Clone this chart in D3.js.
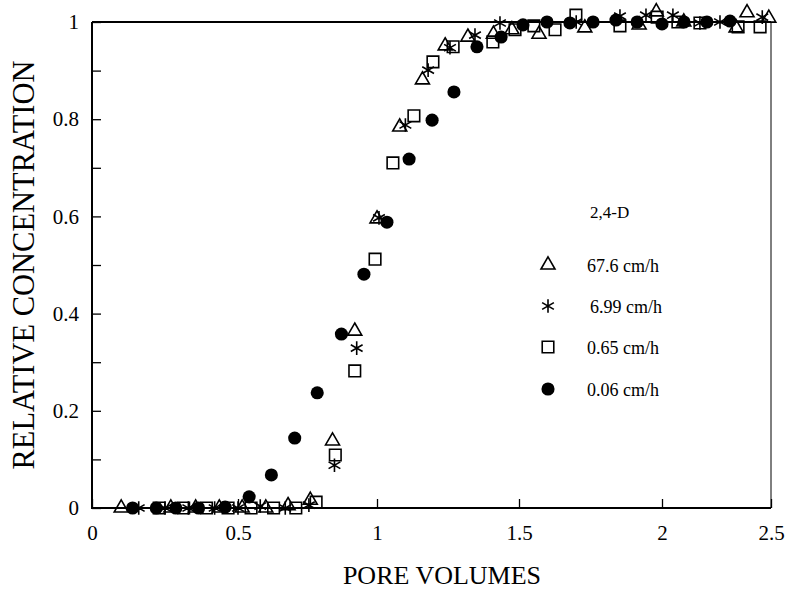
<!DOCTYPE html>
<html>
<head>
<meta charset="utf-8">
<script src="https://cdn.jsdelivr.net/npm/d3@7"></script>
<style>
  html, body { margin: 0; padding: 0; background: #fff; }
  text { font-family: "Liberation Serif", "DejaVu Serif", serif; fill: #000; }
</style>
</head>
<body>
<div id="canvas"></div>
<script>
// tick values
let xTicks = [0, 0.5, 1, 1.5, 2, 2.5]
let yTicks = [0, 0.2, 0.4, 0.6, 0.8, 1]
let yMinor = [0.1, 0.3, 0.5, 0.7, 0.9]

// 67.6 cm/h (triangles)
let tri = [
  [0.10, 0.0], [0.27, 0.0], [0.355, 0.0], [0.436, 0.0], [0.515, 0.0], [0.60, 0.0],
  [0.68, 0.005], [0.76, 0.016], [0.84, 0.138], [0.92, 0.364], [1.0, 0.595],
  [1.08, 0.784], [1.16, 0.881], [1.24, 0.951], [1.32, 0.969], [1.41, 0.975],
  [1.475, 0.984], [1.57, 0.975], [1.73, 0.988], [1.92, 0.994], [1.98, 1.021],
  [2.10, 1.0], [2.34, 0.988], [2.39, 1.019], [2.49, 1.008]
]
// 6.99 cm/h (asterisks)
let star = [
  [0.16, 0.0], [0.25, 0.0], [0.33, 0.0], [0.42, 0.0], [0.50, 0.0], [0.58, 0.004],
  [0.67, 0.0], [0.755, 0.006], [0.847, 0.088], [0.927, 0.329], [1.007, 0.597],
  [1.10, 0.788], [1.18, 0.901], [1.257, 0.947], [1.345, 0.973], [1.433, 0.998],
  [1.70, 1.0], [1.853, 1.012], [1.944, 1.014], [2.05, 1.014], [2.174, 0.998],
  [2.266, 1.0], [2.46, 1.01]
]
// 0.65 cm/h (squares)
let sq = [
  [0.23, 0.0], [0.314, 0.0], [0.392, 0.0], [0.466, 0.0], [0.547, 0.0], [0.628, 0.0],
  [0.708, 0.0], [0.781, 0.012], [0.85, 0.109], [0.92, 0.282], [0.993, 0.512],
  [1.056, 0.71], [1.13, 0.807], [1.197, 0.918], [1.268, 0.949], [1.408, 0.959],
  [1.486, 0.984], [1.552, 0.992], [1.626, 0.984], [1.699, 1.014], [1.853, 0.992],
  [1.983, 1.010], [2.073, 1.0], [2.174, 0.998], [2.349, 0.99], [2.45, 0.99]
]
// 0.06 cm/h (filled circles)
let circ = [
  [0.139, 0.0], [0.22, 0.0], [0.287, 0.0], [0.365, 0.0], [0.456, 0.002],
  [0.54, 0.023], [0.62, 0.068], [0.704, 0.144], [0.785, 0.237], [0.872, 0.358],
  [0.953, 0.481], [1.035, 0.588], [1.113, 0.718], [1.194, 0.798], [1.271, 0.856],
  [1.352, 0.949], [1.437, 0.969], [1.514, 0.994], [1.598, 1.0], [1.678, 0.998],
  [1.759, 1.0], [1.839, 1.004], [1.913, 1.0], [2.0, 0.996], [2.101, 1.0],
  [2.206, 1.0], [2.312, 1.002]
]
let legendLabels = ['67.6 cm/h', '6.99 cm/h', '0.65 cm/h', '0.06 cm/h']

let width = 786
let height = 590
// the scanned axis is not quite even, so the scale is pinned at each labelled tick
let xStops = [92, 238, 377, 519, 662, 771]
let yTop = 22
let yBottom = 508

let svg = d3.select('#canvas').append('svg')
  .attr('width', width)
  .attr('height', height)

let x = d3.scaleLinear().domain(xTicks).range(xStops)
let y = d3.scaleLinear().domain([0, 1]).range([yBottom, yTop])

// symbol shapes
let symTri = d3.symbol().type(d3.symbolTriangle2).size(140)
let symStar = d3.symbol().type(d3.symbolAsterisk).size(130)
let symSq = d3.symbol().type(d3.symbolSquare2).size(170)
let symCirc = d3.symbol().type(d3.symbolCircle).size(135)

let series = [
  { data: tri, path: symTri, fill: 'none', sw: 1.6 },
  { data: star, path: symStar, fill: 'none', sw: 1.6 },
  { data: sq, path: symSq, fill: 'none', sw: 1.6 },
  { data: circ, path: symCirc, fill: '#000', sw: 0 }
]

// frame
svg.append('path')
  .attr('d', 'M' + x(0) + ',' + yTop + 'V' + yBottom + 'H' + x(2.5))
  .attr('fill', 'none')
  .attr('stroke', '#000')
  .attr('stroke-width', 2)
svg.append('line')
  .attr('x1', x(0)).attr('x2', x(2.5))
  .attr('y1', yTop).attr('y2', yTop)
  .attr('stroke', '#000')
  .attr('stroke-width', 1.8)
svg.append('line')
  .attr('x1', x(2.5)).attr('x2', x(2.5))
  .attr('y1', yTop).attr('y2', yBottom)
  .attr('stroke', '#000')
  .attr('stroke-width', 1)

// x axis, ticks pointing inward
let gx = svg.append('g')
  .attr('transform', 'translate(0,' + yBottom + ')')
  .call(d3.axisBottom(x).tickValues(xTicks).tickSizeInner(-9).tickSizeOuter(0).tickPadding(17)
    .tickFormat(d => String(d)))
gx.select('.domain').remove()
gx.selectAll('line').attr('stroke-width', 1.3)
gx.selectAll('text').attr('font-size', 21).attr('font-family', '"Liberation Serif", serif')

// y axis
let gy = svg.append('g')
  .attr('transform', 'translate(' + x(0) + ',0)')
  .call(d3.axisLeft(y).tickValues(yTicks).tickSizeInner(-9).tickSizeOuter(0).tickPadding(13)
    .tickFormat(d => String(d)))
gy.select('.domain').remove()
gy.selectAll('line').attr('stroke-width', 1.3)
gy.selectAll('text').attr('font-size', 21).attr('font-family', '"Liberation Serif", serif')

svg.append('g')
  .attr('transform', 'translate(' + x(0) + ',0)')
  .call(d3.axisLeft(y).tickValues(yMinor).tickSizeInner(-9).tickSizeOuter(0).tickFormat(''))
  .call(g => g.select('.domain').remove())
  .selectAll('line').attr('stroke-width', 1.3)

// axis titles
svg.append('text')
  .attr('x', (x(0) + 792) / 2)
  .attr('y', 584)
  .attr('text-anchor', 'middle')
  .attr('font-size', 26)
  .text('PORE VOLUMES')

svg.append('text')
  .attr('transform', 'translate(34,' + (yTop + yBottom) / 2 + ') rotate(-90)')
  .attr('text-anchor', 'middle')
  .attr('font-size', 30.5)
  .text('RELATIVE CONCENTRATION')

// points
series.forEach(function (s) {
  svg.append('g')
    .selectAll('path')
    .data(s.data)
    .enter()
    .append('path')
    .attr('transform', d => 'translate(' + x(d[0]) + ',' + y(d[1]) + ')')
    .attr('d', s.path)
    .attr('fill', s.fill)
    .attr('stroke', '#000')
    .attr('stroke-width', s.sw)
})

// legend
let lg = svg.append('g')
lg.append('text')
  .attr('x', 590)
  .attr('y', 218)
  .attr('font-size', 17)
  .text('2,4-D')

let legY = [272, 313, 354, 396]
let legX = [587, 590, 587, 587]
series.forEach(function (s, i) {
  lg.append('path')
    .attr('transform', 'translate(548,' + (legY[i] - 7) + ')')
    .attr('d', s.path)
    .attr('fill', s.fill)
    .attr('stroke', '#000')
    .attr('stroke-width', s.sw)
  lg.append('text')
    .attr('x', legX[i])
    .attr('y', legY[i])
    .attr('font-size', 18)
    .text(legendLabels[i])
})
</script>
</body>
</html>
